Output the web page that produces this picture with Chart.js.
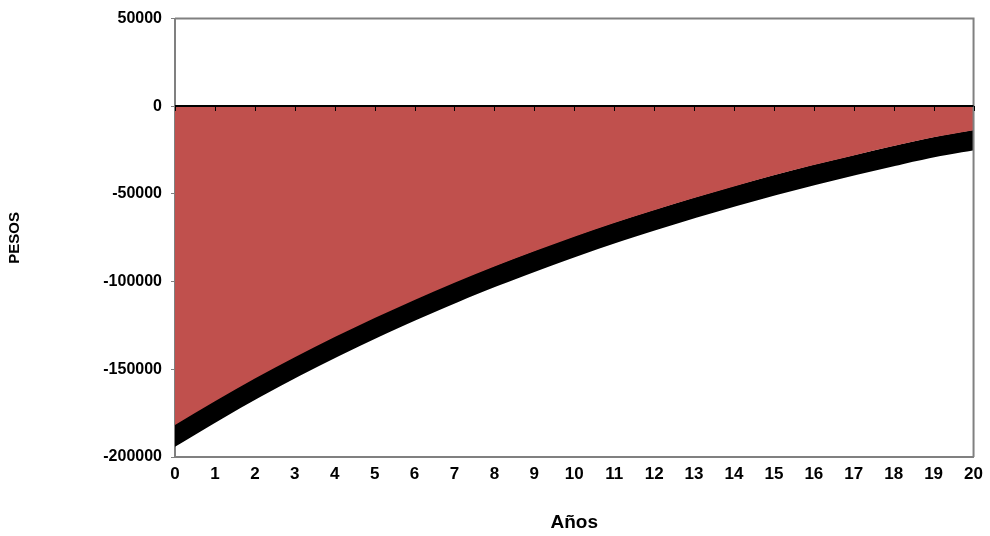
<!DOCTYPE html>
<html>
<head>
<meta charset="utf-8">
<script src="https://cdn.jsdelivr.net/npm/chart.js@4/dist/chart.umd.min.js"></script>
<style>
  body { margin: 0; background: #fff; }
  #wrap { width: 990px; height: 536px; }
</style>
</head>
<body>
<div id="wrap"><canvas id="flujoChart" width="990" height="536"></canvas></div>
<script>
// Data
const years = ['0','1','2','3','4','5','6','7','8','9','10','11','12','13','14','15','16','17','18','19','20'];
const pesos = [-181800, -168200, -155300, -143100, -131600, -120700, -110400, -100600, -91400, -82700,
               -74400, -66600, -59300, -52300, -45700, -39400, -33500, -28000, -22700, -17700, -13600];
const yMin = -200000;
const yMax = 50000;
const yStep = 50000;

// black band under the curve is drawn a bit lower (shadow look)
const shadowPlugin = {
    id: 'shadow',
    beforeDatasetDraw(chart, args) {
        if (args.index === 1) {
            chart.ctx.save();
            chart.ctx.translate(0, 10);
        }
    },
    afterDatasetDraw(chart, args) {
        if (args.index === 1) {
            chart.ctx.restore();
        }
    }
};

// plot box + zero line with its little ticks
const framePlugin = {
    id: 'frame',
    afterDatasetsDraw(chart) {
        const ctx = chart.ctx;
        const a = chart.chartArea;
        const x = chart.scales.x;
        const y = chart.scales.y;
        ctx.save();
        ctx.strokeStyle = '#808080';
        ctx.lineWidth = 2;
        ctx.beginPath();
        ctx.moveTo(a.left, a.top);
        ctx.lineTo(a.right, a.top);
        ctx.lineTo(a.right, a.bottom);
        ctx.stroke();

        const y0 = Math.round(y.getPixelForValue(0));
        ctx.strokeStyle = '#000';
        ctx.lineWidth = 2;
        ctx.beginPath();
        ctx.moveTo(a.left, y0);
        ctx.lineTo(a.right, y0);
        ctx.stroke();
        ctx.lineWidth = 1;
        ctx.beginPath();
        for (let i = 0; i < years.length; i++) {
            const px = Math.round(x.getPixelForValue(i)) + 0.5;
            ctx.moveTo(px, y0);
            ctx.lineTo(px, y0 + 5);
        }
        ctx.stroke();
        ctx.restore();
    }
};

const ctx = document.getElementById('flujoChart').getContext('2d');
const flujoChart = new Chart(ctx, {
    type: 'line',
    data: {
        labels: years,
        datasets: [{
            label: 'Pesos',
            data: pesos,
            backgroundColor: '#C0504D',
            borderWidth: 0,
            pointRadius: 0,
            fill: 'origin',
            clip: 0,
            cubicInterpolationMode: 'monotone'
        }, {
            label: 'sombra',
            data: pesos,
            borderColor: '#000000',
            borderWidth: 20,
            borderCapStyle: 'square',
            pointRadius: 0,
            fill: false,
            clip: 0,
            cubicInterpolationMode: 'monotone'
        }]
    },
    options: {
        responsive: false,
        animation: false,
        layout: {
            padding: { top: 17, right: 12, left: 0, bottom: 0 }
        },
        plugins: {
            legend: { display: false },
            tooltip: { enabled: false }
        },
        scales: {
            x: {
                offset: false,
                grid: { drawOnChartArea: false, drawTicks: false },
                border: { display: true, color: '#808080', width: 2 },
                ticks: {
                    color: '#000',
                    padding: 7,
                    maxRotation: 0,
                    autoSkip: false,
                    font: { family: 'Liberation Sans', size: 17, weight: 'bold' }
                },
                title: {
                    display: true,
                    text: 'Años',
                    color: '#000',
                    padding: { top: 0, bottom: 2 },
                    font: { family: 'Liberation Sans', size: 19, weight: 'bold' }
                },
                afterFit(scale) { scale.height = 536 - 457; }
            },
            y: {
                min: yMin,
                max: yMax,
                grid: { drawOnChartArea: false, drawTicks: true, tickLength: 4, color: '#808080' },
                border: { display: true, color: '#808080', width: 2 },
                ticks: {
                    stepSize: yStep,
                    color: '#000',
                    padding: 9,
                    font: { family: 'Liberation Sans', size: 16, weight: 'bold' },
                    callback: function(value) { return String(value); }
                },
                title: {
                    display: true,
                    text: 'PESOS',
                    color: '#000',
                    padding: { top: 6, bottom: 0 },
                    font: { family: 'Liberation Sans', size: 15, weight: 'bold' }
                },
                afterFit(scale) { scale.width = 175; }
            }
        }
    },
    plugins: [shadowPlugin, framePlugin]
});
</script>
</body>
</html>
